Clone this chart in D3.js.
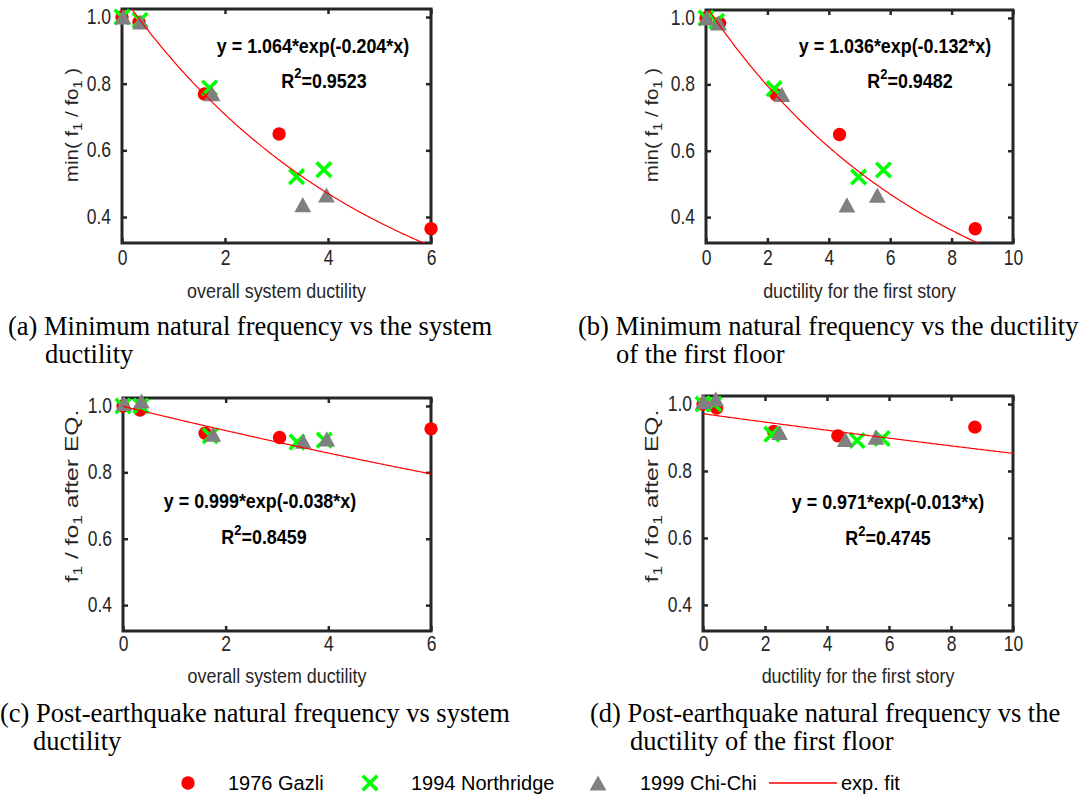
<!DOCTYPE html>
<html><head><meta charset="utf-8">
<script src="https://cdn.jsdelivr.net/npm/d3@7"></script>
<style>body{margin:0;background:#fff}</style>
</head><body>
<svg id="c" width="1089" height="798" xmlns="http://www.w3.org/2000/svg"></svg>
<script>
// ---------------- data ----------------
const seriesNames = ["1976 Gazli", "1994 Northridge", "1999 Chi-Chi"];
const fitLegendLabel = "exp. fit";

// overall system ductility (x of panels a, c)
const gazliSysDuct  = [0, 0.33, 1.60, 3.05, 6.00];
const northSysDuct  = [0, 0.35, 1.70, 3.39, 3.92];
const chichiSysDuct = [0.02, 0.36, 1.75, 3.51, 3.97];

// ductility for the first story (x of panels b, d)
const gazliStoryDuct  = [0, 0.44, 2.28, 4.35, 8.77];
const northStoryDuct  = [0, 0.35, 2.22, 4.97, 5.78];
const chichiStoryDuct = [0.02, 0.41, 2.47, 4.59, 5.58];

// min(f1/fo1) (y of panels a, b)
const gazliMinFreq  = [1.0, 0.984, 0.769, 0.649, 0.365];
const northMinFreq  = [1.0, 0.990, 0.787, 0.521, 0.542];
const chichiMinFreq = [1.0, 0.985, 0.770, 0.437, 0.466];

// f1/fo1 after EQ. (y of panels c, d)
const gazliPostFreq  = [1.0, 0.988, 0.918, 0.905, 0.931];
const northPostFreq  = [1.0, 1.000, 0.910, 0.891, 0.897];
const chichiPostFreq = [1.008, 1.015, 0.915, 0.894, 0.901];

// exponential fit coefficients  y = a*exp(b*x), and R^2
const fitA = [1.064, -0.204], r2A = "0.9523";
const fitB = [1.036, -0.132], r2B = "0.9482";
const fitC = [0.999, -0.038], r2C = "0.8459";
const fitD = [0.971, -0.013], r2D = "0.4745";

const xTicksSys   = [0, 2, 4, 6];
const xTicksStory = [0, 2, 4, 6, 8, 10];
const yTicks      = [0.4, 0.6, 0.8, 1.0];

const xLabelSys   = "overall system ductility";
const xLabelStory = "ductility for the first story";

const captions = {
  a: ["(a) Minimum natural frequency vs the system", "ductility"],
  b: ["(b) Minimum natural frequency vs the ductility", "of the first floor"],
  c: ["(c) Post-earthquake natural frequency vs system", "ductility"],
  d: ["(d) Post-earthquake natural frequency vs the", "ductility of the first floor"]
};

// ---------------- drawing ----------------
const svg = d3.select("#c");
const SANS = "'Liberation Sans', Arial, sans-serif";
const SERIF = "'Liberation Serif', 'Times New Roman', serif";
const AX = "#262626";
const SY = 1.15, SYT = 1.28;
const RED = "#ff0000", GREEN = "#00ff00", GRAY = "#808080";
const yDomain = [0.322, 1.024];
const fmt3 = v => v.toFixed(3);

function drawCircle(g, cx, cy) {
  g.append("circle").attr("cx", cx).attr("cy", cy).attr("r", 6.7).attr("fill", RED);
}
function drawX(g, cx, cy) {
  const h = 7.3;
  g.append("path")
    .attr("d", `M${cx-h},${cy-h}L${cx+h},${cy+h}M${cx-h},${cy+h}L${cx+h},${cy-h}`)
    .attr("stroke", GREEN).attr("stroke-width", 3.6).attr("fill", "none");
}
function drawTri(g, cx, cy) {
  const w = 8.4, h = 7.6;
  g.append("path")
    .attr("d", `M${cx},${cy-h}L${cx+w},${cy+h}L${cx-w},${cy+h}Z`)
    .attr("fill", GRAY);
}

function panel(cfg) {
  const x = d3.scaleLinear().domain(cfg.xDomain).range([cfg.left, cfg.right]);
  const y = d3.scaleLinear().domain(yDomain).range([cfg.bottom, cfg.top]);
  const g = svg.append("g");

  const axB = d3.axisBottom(x).tickValues(cfg.xTicks).tickSizeInner(-5).tickSizeOuter(0).tickFormat(d3.format("d"));
  const axT = d3.axisTop(x).tickValues(cfg.xTicks).tickSizeInner(-5).tickSizeOuter(0).tickFormat("");
  const axL = d3.axisLeft(y).tickValues(yTicks).tickSizeInner(-5).tickSizeOuter(0).tickFormat(d3.format(".1f"));
  const axR = d3.axisRight(y).tickValues(yTicks).tickSizeInner(-5).tickSizeOuter(0).tickFormat("");

  const gb = g.append("g").attr("transform", `translate(0,${cfg.bottom})`).call(axB);
  const gt = g.append("g").attr("transform", `translate(0,${cfg.top})`).call(axT);
  const gl = g.append("g").attr("transform", `translate(${cfg.left},0)`).call(axL);
  const gr = g.append("g").attr("transform", `translate(${cfg.right},0)`).call(axR);
  [gb, gt, gl, gr].forEach(a => {
    a.select(".domain").remove();
    a.selectAll(".tick line").attr("stroke", AX).attr("stroke-width", 2.5);
  });
  gb.selectAll(".tick text")
    .attr("y", null).attr("dy", null)
    .attr("transform", `translate(0,${cfg.xTickBase - cfg.bottom}) scale(1,${SYT})`)
    .attr("font-family", SANS).attr("font-size", 17.5).attr("fill", AX);
  gl.selectAll(".tick text")
    .attr("x", null).attr("dy", null)
    .attr("transform", `translate(-11,6.5) scale(1,${SYT})`)
    .attr("font-family", SANS).attr("font-size", 17.5).attr("fill", AX);
  gb.attr("font-size", null).attr("font-family", null);
  gl.attr("font-size", null).attr("font-family", null);

  g.append("rect").attr("x", cfg.left).attr("y", cfg.top)
    .attr("width", cfg.right - cfg.left).attr("height", cfg.bottom - cfg.top)
    .attr("fill", "none").attr("stroke", AX).attr("stroke-width", 3);

  const mk = g.append("g");
  cfg.series[0].x.forEach((v, i) => drawCircle(mk, x(v), y(cfg.series[0].y[i])));
  cfg.series[1].x.forEach((v, i) => drawX(mk, x(v), y(cfg.series[1].y[i])));
  cfg.series[2].x.forEach((v, i) => drawTri(mk, x(v), y(cfg.series[2].y[i])));

  const clipId = "clip-" + cfg.id;
  svg.append("clipPath").attr("id", clipId).append("rect")
    .attr("x", cfg.left).attr("y", cfg.top)
    .attr("width", cfg.right - cfg.left).attr("height", cfg.bottom - cfg.top);
  const xs = d3.range(0, 201).map(i => cfg.fitRange[0] + (cfg.fitRange[1] - cfg.fitRange[0]) * i / 200);
  g.append("path").datum(xs)
    .attr("clip-path", `url(#${clipId})`)
    .attr("d", d3.line().x(v => x(v)).y(v => y(cfg.fit[0] * Math.exp(cfg.fit[1] * v))))
    .attr("fill", "none").attr("stroke", RED).attr("stroke-width", 1.2);

  g.append("text").attr("transform", `translate(${(cfg.left + cfg.right) / 2},${cfg.xLabelBase}) scale(1,${SY})`)
    .attr("text-anchor", "middle").attr("font-family", SANS).attr("font-size", 17.9).attr("fill", AX)
    .text(cfg.xLabel);

  const yl = g.append("text")
    .attr("transform", `translate(${cfg.yLabelX},${cfg.yLabelY}) rotate(-90) scale(${cfg.yLabelSY},1)`)
    .attr("text-anchor", "middle").attr("font-family", SANS).attr("font-size", cfg.yLabelFont).attr("fill", AX)
    .attr("xml:space", "preserve");
  cfg.yLabelParts.forEach(p => {
    const t = yl.append("tspan").text(p.t);
    if (p.sub) t.attr("font-size", cfg.yLabelFont * 0.7).attr("baseline-shift", "-4");
  });

  const eq = `y = ${fmt3(cfg.fit[0])}*exp(${fmt3(cfg.fit[1])}*x)`;
  g.append("text").attr("transform", `translate(${cfg.eqX},${cfg.eqY}) scale(1,${SY})`)
    .attr("text-anchor", "middle").attr("font-family", SANS).attr("font-size", 17.9)
    .attr("font-weight", "bold").attr("fill", "#000").text(eq);
  const rt = g.append("text").attr("transform", `translate(${cfg.r2X},${cfg.r2Y}) scale(1,${SY})`)
    .attr("text-anchor", "middle").attr("font-family", SANS).attr("font-size", 17.9)
    .attr("font-weight", "bold").attr("fill", "#000");
  rt.append("tspan").text("R");
  rt.append("tspan").text("2").attr("font-size", 13).attr("dy", -8);
  rt.append("tspan").text("=" + cfg.r2).attr("dy", 8);

  const cap = svg.append("g").attr("font-family", SERIF).attr("font-size", 26.5).attr("fill", "#000");
  cap.append("text").attr("x", cfg.capX[0]).attr("y", cfg.capY[0]).text(cfg.caption[0]);
  cap.append("text").attr("x", cfg.capX[1]).attr("y", cfg.capY[1]).text(cfg.caption[1]);
}

const labMin = [{t: "min( f"}, {t: "1", sub: true}, {t: " / fo"}, {t: "1", sub: true}, {t: " )"}];
const labPost = [{t: "f"}, {t: "1", sub: true}, {t: " / fo"}, {t: "1", sub: true}, {t: " after EQ."}];

panel({
  id: "a", left: 122, right: 431, top: 9, bottom: 243,
  xDomain: [0, 6], xTicks: xTicksSys, xTickBase: 265, xLabelBase: 297.5, xLabel: xLabelSys,
  yLabelX: 78, yLabelY: 125, yLabelParts: labMin, yLabelSY: 1.15, yLabelFont: 17.9,
  series: [{x: gazliSysDuct, y: gazliMinFreq}, {x: northSysDuct, y: northMinFreq}, {x: chichiSysDuct, y: chichiMinFreq}],
  fit: fitA, fitRange: [0, 6], r2: r2A,
  eqX: 313, eqY: 52.5, r2X: 324, r2Y: 87.5,
  caption: captions.a, capX: [8, 45], capY: [335, 363]
});
panel({
  id: "b", left: 706, right: 1013, top: 10, bottom: 243,
  xDomain: [0, 10], xTicks: xTicksStory, xTickBase: 265, xLabelBase: 297.5, xLabel: xLabelStory,
  yLabelX: 658, yLabelY: 125, yLabelParts: labMin, yLabelSY: 1.15, yLabelFont: 17.9,
  series: [{x: gazliStoryDuct, y: gazliMinFreq}, {x: northStoryDuct, y: northMinFreq}, {x: chichiStoryDuct, y: chichiMinFreq}],
  fit: fitB, fitRange: [0, 10], r2: r2B,
  eqX: 895, eqY: 53, r2X: 910, r2Y: 88,
  caption: captions.b, capX: [578, 616], capY: [335, 363]
});
panel({
  id: "c", left: 123, right: 431, top: 398, bottom: 631,
  xDomain: [0, 6], xTicks: xTicksSys, xTickBase: 651, xLabelBase: 682.5, xLabel: xLabelSys,
  yLabelX: 78, yLabelY: 496, yLabelParts: labPost, yLabelSY: 1.3, yLabelFont: 19,
  series: [{x: gazliSysDuct, y: gazliPostFreq}, {x: northSysDuct, y: northPostFreq}, {x: chichiSysDuct, y: chichiPostFreq}],
  fit: fitC, fitRange: [0, 6], r2: r2C,
  eqX: 260, eqY: 507.5, r2X: 264, r2Y: 544,
  caption: captions.c, capX: [0, 33], capY: [722, 750]
});
panel({
  id: "d", left: 703, right: 1013, top: 396, bottom: 631,
  xDomain: [0, 10], xTicks: xTicksStory, xTickBase: 651, xLabelBase: 682.5, xLabel: xLabelStory,
  yLabelX: 658, yLabelY: 496, yLabelParts: labPost, yLabelSY: 1.3, yLabelFont: 19,
  series: [{x: gazliStoryDuct, y: gazliPostFreq}, {x: northStoryDuct, y: northPostFreq}, {x: chichiStoryDuct, y: chichiPostFreq}],
  fit: fitD, fitRange: [0, 10], r2: r2D,
  eqX: 888, eqY: 509, r2X: 888, r2Y: 545,
  caption: captions.d, capX: [590, 630], capY: [722, 750]
});

const lg = svg.append("g").attr("font-family", SANS).attr("font-size", 20).attr("fill", "#000");
const legY = 783;
const legMarkX = [188, 370, 598];
const legTextX = [228, 411, 640];
drawCircle(lg, legMarkX[0], legY);
drawX(lg, legMarkX[1], legY);
drawTri(lg, legMarkX[2], legY);
seriesNames.forEach((n, i) => lg.append("text").attr("x", legTextX[i]).attr("y", legY + 7).text(n));
lg.append("line").attr("x1", 769).attr("x2", 837).attr("y1", legY).attr("y2", legY)
  .attr("stroke", RED).attr("stroke-width", 1.3);
lg.append("text").attr("x", 841).attr("y", legY + 7).text(fitLegendLabel);
</script>
</body></html>
